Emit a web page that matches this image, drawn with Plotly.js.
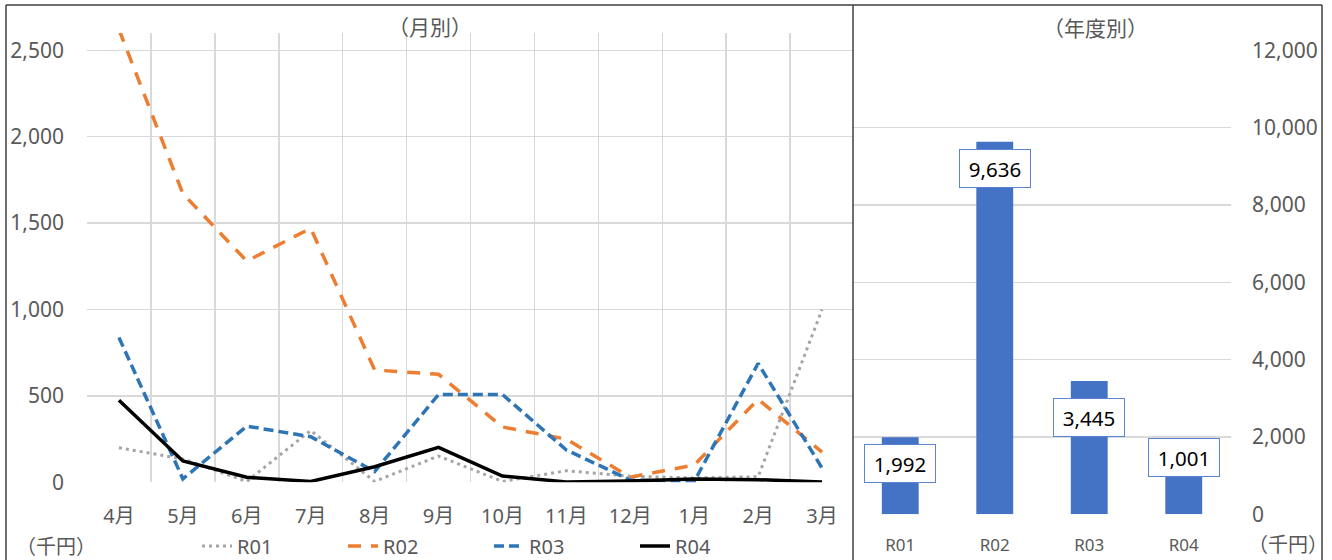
<!DOCTYPE html>
<html>
<head>
<meta charset="utf-8">
<script src="https://cdn.plot.ly/plotly-3.0.1.min.js"></script>
<style>
  html, body { margin: 0; padding: 0; background: #fff; overflow: hidden; }
  #chart { width: 1332px; height: 560px; }
  #chart text { text-spacing-trim: space-all; }
</style>
</head>
<body>
<div id="chart"></div>
<script>
// ---- data ----
const months = ["4月","5月","6月","7月","8月","9月","10月","11月","12月","1月","2月","3月"];
const r01 = [200, 135, 5, 300, 5, 152, 5, 67, 35, 25, 32, 1000];
const r02 = [2620, 1670, 1280, 1470, 650, 625, 320, 250, 30, 100, 480, 175];
const r03 = [838, 20, 325, 264, 62, 508, 508, 187, 13, 5, 688, 82];
const r04 = [475, 123, 29, 5, 90, 202, 36, 2, 8, 19, 15, 2];
const years = ["R01","R02","R03","R04"];
const yearTotals = [1992, 9636, 3445, 1001];
const seriesNames = ["R01","R02","R03","R04"];
const monthlyTitle = "（月別）";
const yearlyTitle = "（年度別）";
const unitLabel = "（千円）";

// ---- style ----
const W = 1332, H = 560;
const px = v => v / W;
const py = v => 1 - v / H;
const FONT = "Noto Sans, Noto Sans CJK JP, sans-serif";
const CJK = "Noto Sans CJK JP, sans-serif";
const GRAY = "#595959";
const GRID = "#D9D9D9";
const labelShift = [-26, -27, -36, 18];

const lineStyles = [
  {color: "#A5A5A5", width: 3, dash: "3px,4px"},
  {color: "#ED7D31", width: 3.5, dash: "13px,10px"},
  {color: "#2E75B6", width: 3.5, dash: "10px,5px"},
  {color: "#000000", width: 3.5, dash: "solid"}
];
const monthly = [r01, r02, r03, r04];

const traces = monthly.map((vals, i) => ({
  type: "scatter", mode: "lines",
  x: months, y: vals, name: seriesNames[i],
  xaxis: "x", yaxis: "y",
  line: lineStyles[i],
  hoverinfo: "skip"
}));

traces.push({
  type: "bar", x: years, y: yearTotals,
  xaxis: "x2", yaxis: "y2",
  marker: {color: "#4472C4"},
  width: 0.39, showlegend: false, hoverinfo: "skip"
});

const annotations = yearTotals.map((v, i) => ({
  xref: "x2", yref: "y2", x: years[i], y: v,
  text: v.toLocaleString("en-US"),
  showarrow: false, yshift: labelShift[i],
  xanchor: "center", yanchor: "middle",
  bgcolor: "#FFFFFF", bordercolor: "#5B85D0", borderwidth: 1,
  borderpad: 1, width: 68, height: 35,
  font: {family: FONT, size: 20.5, color: "#000000"}
}));

const cjkNote = (x, y, text, size) => ({
  xref: "paper", yref: "paper", x: px(x), y: py(y), text: text,
  xanchor: "center", yanchor: "middle", showarrow: false,
  font: {family: CJK, size: size, color: GRAY}
});
annotations.push(
  cjkNote(430, 26, monthlyTitle, 21),
  cjkNote(1095, 27, yearlyTitle, 21),
  cjkNote(56, 545, unitLabel, 20),
  cjkNote(1288, 543, unitLabel, 20)
);

const frame = {color: "#3F3F3F", width: 1.5};
const shapes = [
  {type: "line", xref: "paper", yref: "paper", x0: px(6), x1: px(1322), y0: py(5), y1: py(5), line: frame},
  {type: "line", xref: "paper", yref: "paper", x0: px(6), x1: px(6), y0: py(5), y1: 0, line: frame},
  {type: "line", xref: "paper", yref: "paper", x0: px(853), x1: px(853), y0: py(5), y1: 0, line: frame},
  {type: "line", xref: "paper", yref: "paper", x0: px(1322), x1: px(1322), y0: py(5), y1: 0, line: frame}
];

const tickFont = {family: FONT, size: 21, color: GRAY};

const layout = {
  width: W, height: H,
  margin: {l: 0, r: 0, t: 0, b: 0, autoexpand: false},
  paper_bgcolor: "#FFFFFF", plot_bgcolor: "#FFFFFF",
  showlegend: true,
  legend: {
    orientation: "h", x: px(197), y: py(546), xanchor: "left", yanchor: "middle",
    font: {family: FONT, size: 20, color: GRAY},
    entrywidth: 101, entrywidthmode: "pixels",
    bgcolor: "rgba(0,0,0,0)", traceorder: "normal"
  },
  xaxis: {
    domain: [px(87), px(854)], anchor: "y",
    type: "category", tickson: "boundaries", range: [-0.5, 11.5],
    showgrid: true, gridcolor: GRID, gridwidth: 1.5,
    showline: false, zeroline: false, ticks: "", automargin: false,
    tickfont: {family: FONT, size: 20, color: GRAY}, ticklabelstandoff: 20, fixedrange: true
  },
  yaxis: {
    domain: [py(482.3), py(33)], anchor: "x",
    range: [0, 2600], dtick: 500, tick0: 0, tickformat: ",d",
    showgrid: true, gridcolor: GRID, gridwidth: 1.5,
    zeroline: false, showline: false, ticks: "", automargin: false,
    tickfont: tickFont, ticklabelstandoff: 22, fixedrange: true
  },
  xaxis2: {
    domain: [px(853), px(1231)], anchor: "y2",
    type: "category", range: [-0.5, 3.5],
    showgrid: false, showline: false, zeroline: false, ticks: "", automargin: false,
    tickfont: {family: FONT, size: 17, color: GRAY}, ticklabelstandoff: 19, fixedrange: true
  },
  yaxis2: {
    domain: [py(514.3), py(50.3)], anchor: "x2", side: "right",
    range: [0, 12000], dtick: 2000, tick0: 0, tickformat: ",d",
    showgrid: true, gridcolor: GRID, gridwidth: 1.5,
    zeroline: false, showline: false, ticks: "", automargin: false,
    tickfont: tickFont, ticklabelstandoff: 20, fixedrange: true
  },
  annotations: annotations,
  shapes: shapes
};

Plotly.newPlot("chart", traces, layout, {displayModeBar: false, staticPlot: true});
</script>
</body>
</html>
